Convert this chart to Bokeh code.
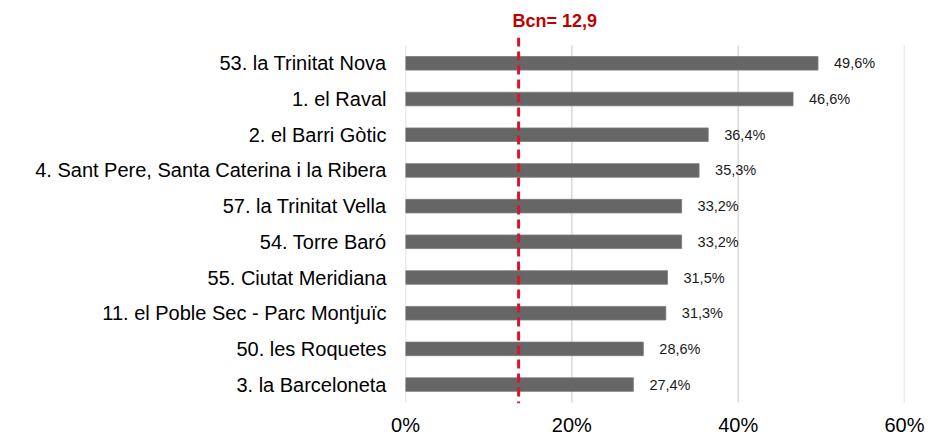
from bokeh.plotting import figure
from bokeh.models import Range1d, FixedTicker, Span, ColumnDataSource
from bokeh.core.properties import value
from bokeh.embed import file_html
from bokeh.resources import INLINE

neighborhoods = [
    "53. la Trinitat Nova",
    "1. el Raval",
    "2. el Barri Gòtic",
    "4. Sant Pere, Santa Caterina i la Ribera",
    "57. la Trinitat Vella",
    "54. Torre Baró",
    "55. Ciutat Meridiana",
    "11. el Poble Sec - Parc Montjuïc",
    "50. les Roquetes",
    "3. la Barceloneta",
]
values = [49.6, 46.6, 36.4, 35.3, 33.2, 33.2, 31.5, 31.3, 28.6, 27.4]
x_ticks = [0, 20, 40, 60]
x_tick_labels = ["0%", "20%", "40%", "60%"]
bcn_line_pos = 13.6
bcn_label = "Bcn= 12,9"

FONT = "Liberation Sans"
n = len(neighborhoods)
ypos = [n - 1 - i for i in range(n)]
labels = [f"{v:.1f}".replace(".", ",") + "%" for v in values]

src = ColumnDataSource(dict(y=ypos, v=values, lab=labels, name=neighborhoods))

p = figure(width=928, height=438, output_backend="svg", toolbar_location=None,
           x_range=Range1d(0, 60), y_range=Range1d(-0.53, n - 0.5 + 0.224),
           min_border_left=405, min_border_right=24, min_border_top=37, min_border_bottom=25,
           title=bcn_label)
p.outline_line_color = None
p.xgrid.visible = False
p.ygrid.visible = False
p.background_fill_color = "white"
p.border_fill_color = "white"

p.title.text_font = FONT
p.title.text_font_size = "18px"
p.title.text_font_style = "bold"
p.title.text_color = "#C00000"
p.title.align = "left"
p.title.offset = 107
p.title.standoff = 14

# grid lines
p.segment(x0=x_ticks, x1=x_ticks, y0=[-0.5] * len(x_ticks), y1=[n - 0.5] * len(x_ticks),
          line_color="#D9D9D9", line_width=1.5)

p.hbar(y="y", right="v", left=0, height=0.38, source=src,
       fill_color="#666666", line_color="#7a7a7a", line_width=0.8)

p.text(x="v", y="y", text="lab", source=src, x_offset=16,
       text_font=value(FONT), text_font_size="14.5px", text_color="#1a1a1a",
       text_baseline="middle", text_align="left")

p.add_layout(Span(location=bcn_line_pos, dimension="height", line_color="#D7152F",
                  line_width=3, line_dash="9 5"))

xa = p.xaxis[0]
xa.ticker = FixedTicker(ticks=x_ticks)
xa.major_label_overrides = {t: l for t, l in zip(x_ticks, x_tick_labels)}
xa.axis_line_color = None
xa.major_tick_line_color = None
xa.minor_tick_line_color = None
xa.major_label_text_font = FONT
xa.major_label_text_font_size = "20px"
xa.major_label_text_color = "#000000"
xa.major_label_standoff = 4

ya = p.yaxis[0]
ya.ticker = FixedTicker(ticks=ypos)
ya.major_label_overrides = {y: nm for y, nm in zip(ypos, neighborhoods)}
ya.axis_line_color = None
ya.major_tick_line_color = None
ya.minor_tick_line_color = None
ya.major_label_text_font = FONT
ya.major_label_text_font_size = "20px"
ya.major_label_text_color = "#000000"
ya.major_label_standoff = 13

open("out.html", "w").write(file_html(p, INLINE))
